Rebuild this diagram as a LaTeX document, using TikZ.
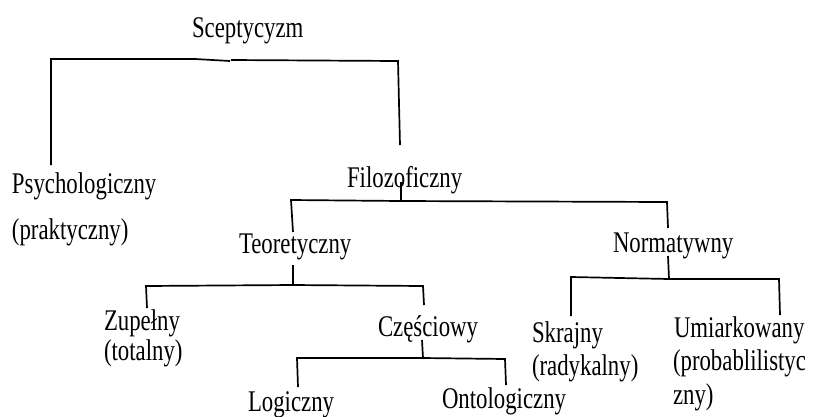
\documentclass[tikz,border=0pt]{standalone}
\usepackage{fontspec}
\setmainfont{Liberation Serif}[FakeStretch=0.76]
\begin{document}
\begin{tikzpicture}[x=1pt,y=-1pt,
  lbl/.style={anchor=base west,inner sep=0pt,outer sep=0pt,font=\fontsize{30}{33}\selectfont},
  conn/.style={line width=1.7pt,line cap=butt,line join=miter}]
\useasboundingbox[fill=white] (0,0) rectangle (824,416);
% labels
\node[lbl] (scep) at (192,37) {Sceptycyzm};
\node[lbl] (psych) at (12,193) {Psychologiczny};
\node[lbl] (prakt) at (12,239) {(praktyczny)};
\node[lbl] (filo) at (347,187) {Filozoficzny};
\node[lbl] (teor) at (239,253) {Teoretyczny};
\node[lbl] (norm) at (613,252) {Normatywny};
\node[lbl] (zup) at (104,330) {Zupełny};
\node[lbl] (zupb) at (104,360) {(totalny)};
\node[lbl] (czes) at (378,336) {Częściowy};
\node[lbl] (skr) at (532,342) {Skrajny};
\node[lbl] (skrb) at (532,375) {(radykalny)};
\node[lbl] (umi) at (674,337) {Umiarkowany};
\node[lbl] (umib) at (673,370) {(probablilistyc};
\node[lbl] (umic) at (673,404) {zny)};
\node[lbl] (log) at (248,411) {Logiczny};
\node[lbl] (ont) at (442,408) {Ontologiczny};
% coordinates of connector ends and corners
\coordinate (s1) at (51,165);
\coordinate (s2) at (51,59);
\coordinate (s3) at (195,59);
\coordinate (s4) at (230,61);
\coordinate (s5) at (231,60);
\coordinate (s6) at (398,61);
\coordinate (s7) at (400,145);
\coordinate (f0) at (401,182);
\coordinate (f1) at (401,201);
\coordinate (f2) at (291,200);
\coordinate (f3) at (293,232);
\coordinate (f4) at (667,202);
\coordinate (f5) at (668,228);
\coordinate (t0) at (293,265);
\coordinate (t1) at (293,285);
\coordinate (t2) at (146,286);
\coordinate (t3) at (147,308);
\coordinate (t4) at (423,286);
\coordinate (t5) at (424,305);
\coordinate (c0) at (422,340);
\coordinate (c1) at (423,358);
\coordinate (c2) at (297,358);
\coordinate (c3) at (298,387);
\coordinate (c4) at (505,359);
\coordinate (c5) at (506,385);
\coordinate (n0) at (668,256);
\coordinate (n1) at (669,279);
\coordinate (n2) at (571,277);
\coordinate (n3) at (571,316);
\coordinate (n4) at (779,279);
\coordinate (n5) at (780,315);
% connectors
\draw[conn] (s1) -- (s2) -- (s3) -- (s4);
\draw[conn] (s5) -- (s6) -- (s7);
\draw[conn] (f0) -- (f1);
\draw[conn] (f3) -- (f2) -- (f1) -- (f4) -- (f5);
\draw[conn] (t0) -- (t1);
\draw[conn] (t3) -- (t2) -- (t1) -- (t4) -- (t5);
\draw[conn] (c0) -- (c1);
\draw[conn] (c3) -- (c2) -- (c1) -- (c4) -- (c5);
\draw[conn] (n0) -- (n1);
\draw[conn] (n3) -- (n2) -- (n1) -- (n4) -- (n5);
\end{tikzpicture}
\end{document}
